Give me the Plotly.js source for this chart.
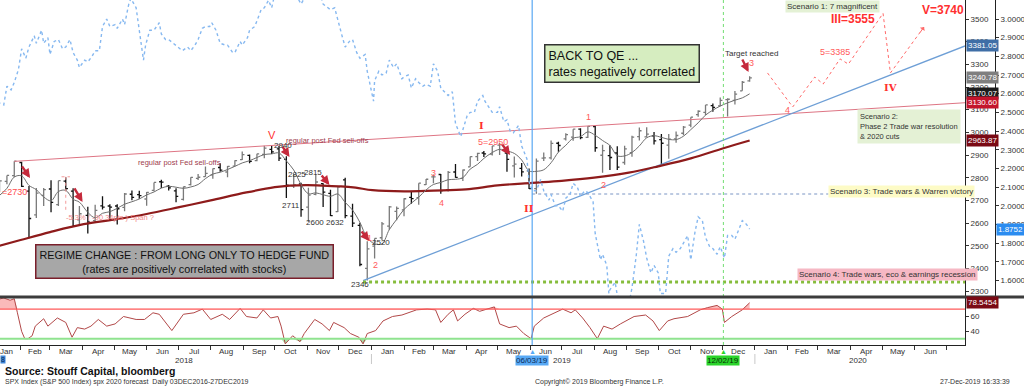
<!DOCTYPE html>
<html><head><meta charset="utf-8">
<script src="https://cdn.plot.ly/plotly-3.0.1.min.js"></script>
<style>html,body{margin:0;padding:0;background:#fff}#c{width:1024px;height:387px}</style>
</head><body><div id="c"></div>
<script>
// ---------- DATA ----------
const weekDates = ['2018-01-12','2018-01-19','2018-01-26','2018-02-02','2018-02-09','2018-02-16','2018-02-23','2018-03-02','2018-03-09','2018-03-16','2018-03-23','2018-03-29','2018-04-06','2018-04-13','2018-04-20','2018-04-27','2018-05-04','2018-05-11','2018-05-18','2018-05-25','2018-06-01','2018-06-08','2018-06-15','2018-06-22','2018-06-29','2018-07-06','2018-07-13','2018-07-20','2018-07-27','2018-08-03','2018-08-10','2018-08-17','2018-08-24','2018-08-31','2018-09-07','2018-09-14','2018-09-21','2018-09-28','2018-10-05','2018-10-12','2018-10-19','2018-10-26','2018-11-02','2018-11-09','2018-11-16','2018-11-23','2018-11-30','2018-12-07','2018-12-14','2018-12-21','2018-12-28',
'2019-01-04','2019-01-11','2019-01-18','2019-01-25','2019-02-01','2019-02-08','2019-02-15','2019-02-22','2019-03-01','2019-03-08','2019-03-15','2019-03-22','2019-03-29','2019-04-05','2019-04-12','2019-04-18','2019-04-26','2019-05-03','2019-05-10','2019-05-17','2019-05-24','2019-05-31','2019-06-07','2019-06-14','2019-06-21','2019-06-28','2019-07-05','2019-07-12','2019-07-19','2019-07-26','2019-08-02','2019-08-09','2019-08-16','2019-08-23','2019-08-30','2019-09-06','2019-09-13','2019-09-20','2019-09-27','2019-10-04','2019-10-11','2019-10-18','2019-10-25','2019-11-01','2019-11-08','2019-11-15','2019-11-22','2019-11-29','2019-12-06','2019-12-13','2019-12-20','2019-12-27'];
const spxOpen = [2747,2784,2809,2867,2741,2636,2722,2750,2681,2785,2741,2614,2634,2611,2676,2675,2675,2669,2727,2725,2706,2744,2782,2763,2742,2704,2769,2797,2805,2812,2845,2825,2851,2880,2898,2875,2903,2925,2927,2881,2764,2773,2670,2726,2774,2731,2650,2790,2630,2590,2400,
2498,2535,2586,2651,2658,2713,2712,2769,2804,2814,2747,2825,2797,2848,2893,2909,2904,2944,2909,2852,2841,2830,2752,2886,2887,2952,2971,2979,3014,2978,3025,2899,2897,2909,2867,2910,2981,2980,2984,2968,2944,2971,2996,3032,3078,3088,3118,3117,3144,3141,3183,3227];
const spxHigh = [2787,2810,2873,2870,2763,2755,2754,2789,2787,2802,2753,2675,2672,2681,2718,2683,2683,2732,2743,2742,2737,2779,2791,2768,2753,2760,2802,2816,2849,2840,2864,2851,2877,2916,2902,2906,2941,2940,2940,2895,2816,2778,2756,2815,2775,2747,2760,2800,2685,2601,2520,
2532,2604,2675,2673,2709,2738,2775,2794,2814,2816,2830,2860,2836,2893,2910,2918,2940,2954,2932,2893,2865,2841,2885,2911,2964,2958,2996,3014,3018,3028,3028,2945,2943,2939,2941,2985,3021,3022,3002,2993,2993,3004,3028,3067,3098,3121,3127,3154,3150,3182,3226,3248];
const spxLow = [2736,2771,2803,2759,2533,2622,2675,2647,2675,2742,2585,2596,2554,2605,2660,2612,2594,2652,2701,2707,2676,2740,2755,2744,2692,2699,2766,2790,2804,2795,2826,2802,2850,2878,2864,2873,2886,2904,2874,2710,2755,2628,2604,2722,2671,2631,2649,2621,2583,2409,2347,
2444,2525,2570,2612,2630,2685,2681,2768,2775,2729,2739,2800,2785,2848,2874,2891,2898,2900,2826,2801,2805,2750,2729,2874,2880,2914,2964,2963,2970,2975,2914,2822,2834,2834,2857,2892,2964,2978,2946,2855,2884,2954,2987,3022,3069,3077,3091,3115,3070,3123,3183,3223];
const spxClose = [2786,2810,2873,2762,2620,2732,2747,2691,2787,2752,2588,2641,2605,2656,2670,2670,2663,2728,2713,2721,2735,2779,2780,2755,2718,2760,2801,2802,2819,2840,2833,2850,2875,2902,2872,2905,2930,2914,2886,2767,2768,2659,2723,2781,2736,2633,2760,2633,2600,2417,2486,
2532,2596,2671,2665,2707,2708,2776,2793,2804,2743,2823,2801,2834,2893,2907,2905,2940,2946,2881,2860,2826,2752,2873,2887,2951,2942,2990,3014,2977,3026,2932,2919,2889,2847,2927,2979,3007,2992,2962,2952,2970,2986,3023,3067,3093,3121,3110,3141,3146,3169,3221,3240];
const ma20 = [2722,2753,2803,2808,2766,2747,2715,2698,2739,2744,2705,2692,2647,2623,2643,2650,2665,2683,2694,2706,2724,2737,2754,2762,2758,2753,2759,2770,2796,2816,2824,2836,2850,2865,2875,2889,2902,2905,2909,2874,2834,2770,2729,2733,2725,2718,2728,2691,2657,2603,2534,
2509,2508,2571,2616,2660,2688,2714,2746,2770,2779,2791,2793,2800,2838,2859,2885,2911,2925,2918,2907,2878,2830,2828,2835,2866,2913,2943,2974,2981,3002,2987,2964,2942,2897,2896,2911,2940,2976,2985,2978,2969,2968,2983,3012,3042,3076,3098,3116,3130,3142,3152,3170];

const ma200Dates = ['2018-01-10','2018-02-01','2018-03-01','2018-04-02','2018-05-01','2018-06-01','2018-07-02','2018-08-01','2018-09-04','2018-10-01','2018-10-15','2018-11-01','2018-11-15','2018-12-03','2018-12-17','2019-01-02','2019-02-01','2019-03-01','2019-04-01','2019-05-01','2019-06-03','2019-07-01','2019-08-01','2019-09-03','2019-10-01','2019-11-01','2019-12-02','2019-12-27'];
const ma200 = [2497,2525,2560,2595,2615,2640,2670,2700,2735,2758,2765,2767,2765,2762,2756,2745,2740,2743,2748,2766,2777,2786,2800,2822,2850,2885,2930,2964];

const yieldDates = ['2018-01-10','2018-01-12','2018-01-16','2018-01-19','2018-01-23','2018-01-26','2018-01-30','2018-02-02','2018-02-06','2018-02-09','2018-02-14','2018-02-16','2018-02-21','2018-02-23','2018-02-27','2018-03-01','2018-03-05','2018-03-09','2018-03-13','2018-03-16','2018-03-20','2018-03-23','2018-03-27','2018-03-29','2018-04-03','2018-04-06','2018-04-10','2018-04-13','2018-04-17','2018-04-20','2018-04-24','2018-04-27','2018-05-02','2018-05-04','2018-05-09','2018-05-11','2018-05-15','2018-05-17','2018-05-22','2018-05-25','2018-05-29','2018-05-31','2018-06-04','2018-06-08','2018-06-13','2018-06-15','2018-06-19','2018-06-22','2018-06-26','2018-06-29','2018-07-05','2018-07-10','2018-07-13','2018-07-17','2018-07-20','2018-07-24','2018-07-27','2018-07-31','2018-08-02','2018-08-06','2018-08-10','2018-08-15','2018-08-17','2018-08-22','2018-08-24','2018-08-29','2018-08-31','2018-09-05','2018-09-07','2018-09-12','2018-09-14','2018-09-18','2018-09-21','2018-09-25','2018-09-28','2018-10-03','2018-10-05','2018-10-09','2018-10-11','2018-10-12','2018-10-17','2018-10-19','2018-10-24','2018-10-26','2018-10-30','2018-11-02','2018-11-07','2018-11-09','2018-11-13','2018-11-16','2018-11-20','2018-11-23','2018-11-27','2018-11-30','2018-12-04','2018-12-07','2018-12-11','2018-12-14','2018-12-18','2018-12-21','2018-12-26','2018-12-28',
'2019-01-03','2019-01-04','2019-01-08','2019-01-11','2019-01-15','2019-01-18','2019-01-22','2019-01-25','2019-01-30','2019-02-01','2019-02-05','2019-02-08','2019-02-12','2019-02-15','2019-02-19','2019-02-22','2019-02-26','2019-03-01','2019-03-05','2019-03-08','2019-03-12','2019-03-15','2019-03-19','2019-03-22','2019-03-27','2019-03-29','2019-04-02','2019-04-05','2019-04-09','2019-04-12','2019-04-17','2019-04-19','2019-04-24','2019-04-26','2019-05-01','2019-05-03','2019-05-07','2019-05-10','2019-05-13','2019-05-16','2019-05-21','2019-05-24','2019-05-29','2019-05-31','2019-06-03','2019-06-07','2019-06-11','2019-06-14','2019-06-19','2019-06-21','2019-06-25','2019-06-28','2019-07-02','2019-07-05','2019-07-09','2019-07-12','2019-07-16','2019-07-19','2019-07-23','2019-07-26','2019-07-31','2019-08-01','2019-08-02','2019-08-07','2019-08-09','2019-08-13','2019-08-15','2019-08-16','2019-08-21','2019-08-23','2019-08-28','2019-08-30','2019-09-03','2019-09-06','2019-09-10','2019-09-13','2019-09-17','2019-09-20','2019-09-24','2019-09-27','2019-10-01','2019-10-03','2019-10-08','2019-10-11','2019-10-15','2019-10-18','2019-10-22','2019-10-25','2019-10-29','2019-11-01','2019-11-05','2019-11-08','2019-11-12','2019-11-15','2019-11-19','2019-11-22','2019-11-26','2019-11-29','2019-12-03','2019-12-06','2019-12-10','2019-12-13','2019-12-17','2019-12-20','2019-12-24','2019-12-27'];
const yieldVals = [2.55,2.55,2.54,2.64,2.62,2.66,2.73,2.84,2.79,2.85,2.91,2.87,2.94,2.87,2.90,2.81,2.88,2.89,2.84,2.85,2.89,2.82,2.78,2.74,2.78,2.77,2.80,2.83,2.83,2.96,3.00,2.96,2.97,2.95,3.00,2.97,3.08,3.11,3.06,2.93,2.78,2.86,2.94,2.94,2.98,2.92,2.89,2.89,2.87,2.86,2.83,2.85,2.83,2.86,2.89,2.95,2.96,2.96,2.98,2.94,2.87,2.86,2.86,2.82,2.82,2.88,2.86,2.90,2.94,2.96,2.99,3.05,3.06,3.10,3.06,3.18,3.23,3.21,3.14,3.16,3.20,3.19,3.10,3.08,3.12,3.21,3.23,3.18,3.14,3.08,3.06,3.05,3.06,2.99,2.91,2.85,2.88,2.89,2.82,2.79,2.81,2.72,
2.56,2.67,2.72,2.70,2.71,2.78,2.74,2.76,2.68,2.69,2.70,2.63,2.68,2.66,2.64,2.65,2.64,2.76,2.72,2.63,2.61,2.59,2.61,2.44,2.37,2.41,2.48,2.50,2.50,2.56,2.59,2.56,2.52,2.50,2.50,2.53,2.45,2.46,2.40,2.39,2.43,2.32,2.25,2.13,2.08,2.08,2.14,2.08,2.03,2.06,2.00,2.00,1.97,2.04,2.06,2.12,2.10,2.05,2.08,2.07,2.02,1.89,1.85,1.71,1.74,1.68,1.53,1.55,1.59,1.52,1.47,1.50,1.47,1.56,1.73,1.90,1.81,1.72,1.64,1.68,1.64,1.53,1.53,1.73,1.77,1.75,1.77,1.80,1.84,1.71,1.86,1.94,1.92,1.83,1.78,1.77,1.74,1.78,1.72,1.84,1.84,1.82,1.88,1.92,1.90,1.8752];

const rsiDates = ['2018-01-10','2018-01-16','2018-01-22','2018-01-26','2018-01-29','2018-02-02','2018-02-05','2018-02-08','2018-02-12','2018-02-15','2018-02-23','2018-02-27','2018-03-08','2018-03-16','2018-03-22','2018-03-27','2018-04-03','2018-04-09','2018-04-16','2018-04-24','2018-05-02','2018-05-10','2018-05-22','2018-05-30','2018-06-07','2018-06-13','2018-06-25','2018-07-06','2018-07-16','2018-07-24','2018-08-01','2018-08-12','2018-08-19','2018-08-29','2018-09-04','2018-09-14','2018-09-20','2018-09-27','2018-10-04','2018-10-07','2018-10-11','2018-10-15','2018-10-18','2018-10-25','2018-10-29','2018-11-08','2018-11-15','2018-11-22','2018-11-26','2018-12-06','2018-12-12','2018-12-20','2018-12-24','2018-12-28','2019-01-05','2019-01-12','2019-01-21','2019-01-30','2019-02-13','2019-02-23','2019-03-03','2019-03-08','2019-03-15','2019-03-20','2019-03-24','2019-03-31','2019-04-08','2019-04-14','2019-04-24','2019-04-28','2019-05-03','2019-05-12','2019-05-19','2019-05-26','2019-06-02','2019-06-05','2019-06-14','2019-06-24','2019-07-02','2019-07-10','2019-07-14','2019-07-21','2019-07-28','2019-08-04','2019-08-10','2019-08-18','2019-08-26','2019-09-08','2019-09-19','2019-09-26','2019-10-02','2019-10-10','2019-10-16','2019-10-29','2019-11-10','2019-11-17','2019-11-26','2019-12-01','2019-12-03','2019-12-10','2019-12-20','2019-12-27'];
const rsiVals = [83,85,82,84,65,40,30,30,34,47,57,47,58,52,32,45,43,47,56,47,50,60,56,56,65,63,41,63,65,70,56,63,56,71,60,58,69,58,60,47,23,30,34,26,37,56,50,41,52,45,37,32,23,37,41,54,60,62,69,70,69,52,63,69,54,63,71,67,71,73,50,45,47,37,30,47,58,65,70,65,69,58,45,30,47,43,50,60,62,54,41,54,57,60,69,72,75,70,52,60,69,78.5454];

const monthLabelDates = ['2018-01-19','2018-02-15','2018-03-16','2018-04-16','2018-05-16','2018-06-16','2018-07-16','2018-08-16','2018-09-16','2018-10-16','2018-11-16','2018-12-16',
'2019-01-16','2019-02-15','2019-03-16','2019-04-16','2019-05-16','2019-06-16','2019-07-16','2019-08-16','2019-09-16','2019-10-16','2019-11-16','2019-12-16',
'2020-01-16','2020-02-15','2020-03-16','2020-04-16','2020-05-16','2020-06-16'];
const monthLabels = ['Jan','Feb','Mar','Apr','May','Jun','Jul','Aug','Sep','Oct','Nov','Dec','Jan','Feb','Mar','Apr','May','Jun','Jul','Aug','Sep','Oct','Nov','Dec','Jan','Feb','Mar','Apr','May','Jun'];
const yearLabelDates = ['2018-07-07','2019-07-01','2020-04-08'];
const yearLabels = ['2018','2019','2020'];

const upperLineDates = ['2018-01-26','2020-07-19'];
const upperLineVals = [2872,3130.60];
const blueLineDates = ['2018-12-24','2020-07-19'];
const blueLineVals = [2346,3381.05];
const supportDates = ['2018-12-24','2020-07-19'];
const supportVals = [2340,2340];
const scen3Dates = ['2019-06-03','2020-03-11'];
const scen3Vals = [2728,2728];
const projDates = ['2020-01-13','2020-02-06','2020-02-27','2020-03-06','2020-03-22','2020-03-30','2020-05-02','2020-05-09','2020-06-10'];
const projVals = [3262,3112,3244,3213,3324,3301,3525,3262,3465];
const markerDates = ['2019-06-03','2019-12-02'];
const markerLabels = ['06/03/19','12/02/19'];
const lastTags = [
  {v:3381.05, t:'3381.05', bg:'#3f6ea6', ax:'y'},
  {v:3240.78, t:'3240.78', bg:'#7f7f7f', ax:'y'},
  {v:3170.07, t:'3170.07', bg:'#1c1c1c', ax:'y'},
  {v:3130.60, t:'3130.60', bg:'#c4142c', ax:'y'},
  {v:2963.87, t:'2963.87', bg:'#7a0a14', ax:'y'},
  {v:1.8752,  t:'1.8752',  bg:'#2b8cf0', ax:'y2'},
  {v:78.5454, t:'78.5454', bg:'#7a0a14', ax:'y3'}
];

// ---------- TRACES ----------
const traces = [];
traces.push({type:'scatter', mode:'lines', x:yieldDates, y:yieldVals, xaxis:'x', yaxis:'y2',
  line:{color:'#86b8f0', width:1.4, dash:'dot'}, hoverinfo:'skip'});
traces.push({type:'scatter', mode:'lines', x:upperLineDates, y:upperLineVals, line:{color:'#de7584', width:1}, hoverinfo:'skip'});
traces.push({type:'scatter', mode:'lines', x:blueLineDates, y:blueLineVals, line:{color:'#6e9fd6', width:1.3}, hoverinfo:'skip'});
traces.push({type:'scatter', mode:'lines', x:supportDates, y:supportVals, line:{color:'#86bd3c', width:3, dash:'dot'}, hoverinfo:'skip'});
traces.push({type:'scatter', mode:'lines', x:scen3Dates, y:scen3Vals, line:{color:'#7a95c4', width:1, dash:'dot'}, hoverinfo:'skip'});
traces.push({type:'scatter', mode:'lines', x:ma200Dates, y:ma200, line:{color:'#8e1b1b', width:2.2, shape:'spline'}, hoverinfo:'skip'});
traces.push({type:'scatter', mode:'lines', x:weekDates, y:ma20, line:{color:'#6e6e6e', width:1, shape:'spline'}, hoverinfo:'skip'});
traces.push({type:'ohlc', x:weekDates, open:spxOpen, high:spxHigh, low:spxLow, close:spxClose, xaxis:'x', yaxis:'y',
  increasing:{line:{color:'#7a7a7a', width:1.3}}, decreasing:{line:{color:'#111111', width:1.3}}, tickwidth:0.35, hoverinfo:'skip'});
traces.push({type:'scatter', mode:'lines', x:projDates, y:projVals, line:{color:'#ff6a6a', width:1, dash:'dot'}, hoverinfo:'skip'});

// RSI panel
const rsiTop = rsiVals.map(v => Math.max(v,70));
const rsiBot = rsiVals.map(v => Math.min(v,30));
traces.push({type:'scatter', mode:'lines', x:rsiDates, y:rsiDates.map(()=>70), yaxis:'y3', line:{width:0}, hoverinfo:'skip'});
traces.push({type:'scatter', mode:'lines', x:rsiDates, y:rsiTop, yaxis:'y3', fill:'tonexty', fillcolor:'rgba(245,130,130,0.55)', line:{width:0}, hoverinfo:'skip'});
traces.push({type:'scatter', mode:'lines', x:rsiDates, y:rsiDates.map(()=>30), yaxis:'y3', line:{width:0}, hoverinfo:'skip'});
traces.push({type:'scatter', mode:'lines', x:rsiDates, y:rsiBot, yaxis:'y3', fill:'tonexty', fillcolor:'rgba(110,200,110,0.6)', line:{width:0}, hoverinfo:'skip'});
traces.push({type:'scatter', mode:'lines', x:rsiDates, y:rsiVals, yaxis:'y3', line:{color:'#b24848', width:1}, hoverinfo:'skip'});

// ---------- LAYOUT ----------
const H = 387, W = 1024;
const py = p => 1 - p/H;
const FONT = 'Liberation Sans, Arial, sans-serif';
const RED = '#ff3030';
const shapes = [
  {type:'line', xref:'paper', yref:'y3', x0:0, x1:965/W, y0:70, y1:70, line:{color:'#ff5a5a', width:1.2}},
  {type:'line', xref:'paper', yref:'y3', x0:0, x1:965/W, y0:30, y1:30, line:{color:'#8fe38f', width:2}},
  {type:'line', xref:'x', yref:'paper', x0:markerDates[0], x1:markerDates[0], y0:py(345), y1:1, line:{color:'#59a8f2', width:1.2}},
  {type:'line', xref:'x', yref:'paper', x0:markerDates[1], x1:markerDates[1], y0:py(345), y1:1, line:{color:'#72dd72', width:1, dash:'dot'}},
  {type:'line', xref:'paper', yref:'paper', x0:0, x1:1, y0:py(297), y1:py(297), line:{color:'#3c3c3c', width:3}},
  {type:'line', xref:'x', yref:'paper', x0:'2019-01-01', x1:'2019-01-01', y0:py(364), y1:py(354), line:{color:'#c8c8c8', width:1}},
  {type:'line', xref:'x', yref:'paper', x0:'2020-01-01', x1:'2020-01-01', y0:py(364), y1:py(354), line:{color:'#c8c8c8', width:1}},
  {type:'line', xref:'x', yref:'y', x0:'2018-03-16', x1:'2018-03-16', y0:2804, y1:2648, line:{color:'#f39a9a', width:1, dash:'dot'}},
  {type:'line', xref:'x', yref:'y', x0:'2018-03-12', x1:'2018-03-20', y0:2804, y1:2804, line:{color:'#f39a9a', width:1, dash:'dot'}}
];

const ann = [];
function T(x, y, text, o) { ann.push(Object.assign({x, y, xref:'x', yref:'y', text, showarrow:false, xanchor:'center', yanchor:'middle',
  font:{family:FONT, size:8, color:'#333'}}, o||{})); }
function P(xp, ypx, text, o) { ann.push(Object.assign({x:xp, y:py(ypx), xref:'paper', yref:'paper', text, showarrow:false, xanchor:'center', yanchor:'middle',
  font:{family:FONT, size:8, color:'#333'}}, o||{})); }
function ARW(x, y, ax, ay) { ann.push({x, y, xref:'x', yref:'y', text:'', showarrow:true, arrowhead:2, arrowsize:0.75,
  arrowwidth:2.4, arrowcolor:'#c52a3c', ax, ay}); }

// red arrows
ARW('2018-02-10', 2799, -9, -13);
ARW('2018-04-01', 2693, -9, -15);
ARW('2018-10-15', 2891, -8, -12);
ARW('2018-11-22', 2768, -9, -11);
ARW('2018-12-30', 2521, -9, -11);
ARW('2019-05-13', 2900, -9, -12);
ARW('2019-12-26', 3266, -7, -14);
// projection arrow head
ann.push({x:projDates[projDates.length-1], y:projVals[projVals.length-1], xref:'x', yref:'y', text:'', showarrow:true,
  arrowhead:1, arrowsize:1, arrowwidth:1, arrowcolor:'#ff6a6a', ax:-5, ay:7});

// text labels
T('2018-01-12 10:00', 2737, '=2730', {xanchor:'left', font:{family:FONT, size:9, color:'#ff4a4a'}});
T('2018-04-27', 2623, '-5.3% ( -90.34pts ) Span ?', {font:{family:FONT, size:7.5, color:'#f08a8a'}});
T('2018-07-02', 2865, 'regular post Fed sell-offs', {font:{family:FONT, size:7.5, color:'#a0404e'}});
T('2018-10-10', 2966, 'regular post Fed sell-offs', {xanchor:'left', font:{family:FONT, size:7.5, color:'#a0404e'}});
T('2018-09-28', 2990, 'V', {font:{family:FONT, size:11, color:RED}});
T('2018-10-09', 2940, '2940');
T('2018-10-22', 2812, '2825');
T('2018-11-06', 2825, '2815');
T('2018-10-16', 2679, '2711');
T('2018-11-08', 2604, '2600');
T('2018-11-27', 2604, '2632');
T('2018-12-21', 2327, '2346');
T('2019-01-10', 2516, '2520');
T('2018-12-30', 2534, '1', {font:{family:FONT, size:9, color:'#ff5a5a'}});
T('2019-01-05', 2415, '2', {font:{family:FONT, size:9, color:'#ff5a5a'}});
T('2019-03-01', 2821, '3', {font:{family:FONT, size:9, color:'#ff5a5a'}});
T('2019-03-09', 2688, '4', {font:{family:FONT, size:9, color:'#ff5a5a'}});
T('2019-04-16', 3032, '<b>I</b>', {font:{family:'DejaVu Serif, serif', size:10, color:RED}});
T('2019-04-27', 2957, '5=2950', {font:{family:FONT, size:9, color:'#ff5a5a'}});
T('2019-05-31', 2666, '<b>II</b>', {font:{family:'DejaVu Serif, serif', size:10, color:RED}});
T('2019-07-27', 3068, '1', {font:{family:FONT, size:9, color:'#ff5a5a'}});
T('2019-08-10', 2768, '2', {font:{family:FONT, size:9, color:'#ff5a5a'}});
T('2019-12-29', 3306, '3', {font:{family:FONT, size:9, color:'#ff5a5a'}});
T('2019-12-29', 3346, 'Target reached');
T('2020-02-01', 3099, '4', {font:{family:FONT, size:9, color:'#ff5a5a'}});
T('2020-03-17', 3354, '5=3385', {font:{family:FONT, size:9, color:'#ff5a5a'}});
T('2020-04-03', 3500, '<b>III=3555</b>', {font:{family:FONT, size:12, color:RED}});
T('2020-03-15', 3553, 'Scenario 1: 7 magnificent', {bgcolor:'#e4f1d5', borderpad:1});
T('2020-06-28', 3540, '<b>V=3740</b>', {font:{family:FONT, size:12, color:RED}});
T('2020-05-09', 3196, '<b>IV</b>', {font:{family:'DejaVu Serif, serif', size:10, color:RED}});
T('2020-04-07', 3028, 'Scenario 2:<br>Phase 2 Trade war resolution<br>&amp; 2020 cuts', {xanchor:'left', align:'left', bgcolor:'#e4f1d5', borderpad:2,
  font:{family:FONT, size:7.5, color:'#333'}});
T('2020-03-11', 2741, 'Scenario 3: Trade wars &amp; Warren victory', {xanchor:'left', bgcolor:'#fdfbc6', borderpad:1});
T('2020-02-10', 2375, 'Scenario 4: Trade wars, eco &amp; earnings recession', {xanchor:'left', bgcolor:'#f6b8c4', borderpad:1});
T('2019-06-14', 3304, 'BACK TO QE ...<br>rates negatively correlated', {xanchor:'left', align:'left', bgcolor:'#d6edc0', bordercolor:'#333', borderwidth:1.5, borderpad:3,
  font:{family:FONT, size:12.5, color:'#111'}});
T('2018-02-15', 2432, 'REGIME CHANGE : FROM LONG ONLY TO HEDGE FUND<br>(rates are positively correlated with stocks)', {xanchor:'left', bgcolor:'#a7a7a7', bordercolor:'#7a1f2b', borderwidth:1.5, borderpad:3,
  font:{family:FONT, size:10.8, color:'#111'}});

// right-side value tags
lastTags.forEach(t => {
  ann.push({x: t.ax==='y2' ? 996/W : 966/W, xref:'paper', y:t.v, yref:t.ax, text:t.t, showarrow:false, xanchor:'left', yanchor:'middle',
    bgcolor:t.bg, borderpad:1, font:{family:FONT, size:8, color:'#fff'}});
});

// x-axis labels
monthLabelDates.forEach((d,i) => {
  ann.push({x:d, xref:'x', y:py(351.5), yref:'paper', text:monthLabels[i], showarrow:false, xanchor:'center', yanchor:'middle',
    font:{family:FONT, size:8, color:'#333'}});
});
yearLabelDates.forEach((d,i) => {
  ann.push({x:d, xref:'x', y:py(360.5), yref:'paper', text:yearLabels[i], showarrow:false, xanchor:'center', yanchor:'middle',
    font:{family:FONT, size:8, color:'#333'}});
});
ann.push({x:markerDates[0], xref:'x', y:py(360), yref:'paper', text:markerLabels[0], showarrow:false, xanchor:'center', yanchor:'middle', bgcolor:'#58a9f5', borderpad:0, font:{family:FONT, size:8, color:'#0c2c58'}});
ann.push({x:markerDates[1], xref:'x', y:py(360), yref:'paper', text:markerLabels[1], showarrow:false, xanchor:'center', yanchor:'middle', bgcolor:'#2bd42b', borderpad:0, font:{family:FONT, size:8, color:'#063006'}});
ann.push({x:markerDates[0], xref:'x', y:py(351), yref:'paper', text:'▲', showarrow:false, xanchor:'center', yanchor:'middle', font:{size:7, color:'#58a9f5'}});
ann.push({x:markerDates[1], xref:'x', y:py(351), yref:'paper', text:'▲', showarrow:false, xanchor:'center', yanchor:'middle', font:{size:7, color:'#2bd42b'}});
P(0, 359, '8', {xanchor:'left', bgcolor:'#3f86d8', borderpad:0, font:{family:FONT, size:7, color:'#0c2c58'}});

// footer
P(3/W, 371, '<b>Source: Stouff Capital, bloomberg</b>', {xanchor:'left', font:{family:FONT, size:10.5, color:'#111'}});
P(3/W, 381.5, 'SPX Index (S&amp;P 500 Index) spx 2020 forecast  Daily 03DEC2016-27DEC2019', {xanchor:'left', font:{family:FONT, size:7, color:'#333'}});
P(533/W, 381.5, 'Copyright© 2019 Bloomberg Finance L.P.', {xanchor:'left', font:{family:FONT, size:7, color:'#333'}});
P(1012/W, 381.5, '27-Dec-2019 16:33:39', {xanchor:'right', font:{family:FONT, size:7, color:'#333'}});

const layout = {
  width:W, height:H, margin:{l:0, r:0, t:0, b:0}, paper_bgcolor:'#fff', plot_bgcolor:'#fff', showlegend:false,
  font:{family:FONT, size:8, color:'#222'}, hovermode:false,
  xaxis:{domain:[0,965/W], anchor:'y3', type:'date', range:['2018-01-12 10:00','2020-07-19'], dtick:'M1', tick0:'2018-01-01',
    showticklabels:false, ticks:'outside', ticklen:4, tickcolor:'#333', showline:true, linecolor:'#222', linewidth:1,
    showgrid:false, zeroline:false, rangeslider:{visible:false}},
  yaxis:{domain:[py(296),1], anchor:'x', side:'right', range:[2278.1,3583.8], tick0:2300, dtick:100, ticks:'outside', ticklen:3,
    tickcolor:'#333', showline:true, linecolor:'#222', showgrid:false, zeroline:false, tickfont:{family:FONT, size:8, color:'#333'}},
  yaxis2:{overlaying:'y', anchor:'free', position:995/W, side:'right', range:[1.5163,3.1018],
    tickvals:[1.6,1.7,1.8,1.9,2.0,2.1,2.2,2.3,2.4,2.5,2.6,2.7,2.8,2.9,3.0], tickformat:'.4f', ticks:'outside', ticklen:3,
    tickcolor:'#333', showline:true, linecolor:'#222', showgrid:false, zeroline:false, tickfont:{family:FONT, size:8, color:'#333'}},
  yaxis3:{domain:[py(345),py(298)], anchor:'x', side:'right', range:[21.5,85], tickvals:[40,60], ticks:'outside', ticklen:3,
    tickcolor:'#333', showline:true, linecolor:'#222', showgrid:false, zeroline:false, tickfont:{family:FONT, size:8, color:'#333'}},
  shapes, annotations:ann
};
Plotly.newPlot('c', traces, layout, {staticPlot:true, displayModeBar:false});
</script></body></html>
